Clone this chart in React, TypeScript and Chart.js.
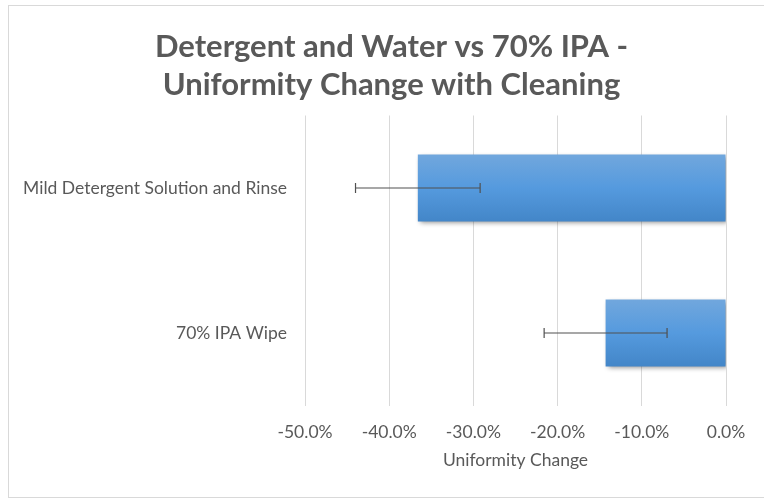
import React, { useEffect, useRef } from "react";
import { Chart, registerables } from "chart.js";

Chart.register(...registerables);

const titleLines = ["Detergent and Water vs 70% IPA -", "Uniformity Change with Cleaning"];
const categories = ["Mild Detergent Solution and Rinse", "70% IPA Wipe"];
const changeValues = [-36.6, -14.3];
const errorValues = [7.4, 7.3];
const xMin = -50;
const xMax = 0;
const xStep = 10;
const xAxisTitle = "Uniformity Change";

const FONT = "Lato, 'Open Sans', sans-serif";
const TEXT = "#595959";
const BAR_PCT = 0.462;
const W = 755;
const H = 491;

export default function App() {
  const ref = useRef<HTMLCanvasElement | null>(null);

  useEffect(() => {
    document.body.style.overflow = "hidden";
    const canvas = ref.current;
    if (!canvas) return;

    const shadowAndErrors = {
      id: "shadowAndErrors",
      beforeDatasetsDraw(chart: any) {
        const ctx = chart.ctx;
        ctx.save();
        ctx.shadowColor = "rgba(0,0,0,0.45)";
        ctx.shadowBlur = 5;
        ctx.shadowOffsetX = 2;
        ctx.shadowOffsetY = 2;
      },
      afterDatasetsDraw(chart: any) {
        const ctx = chart.ctx;
        ctx.restore();
        const meta = chart.getDatasetMeta(0);
        const xs = chart.scales.x;
        ctx.save();
        ctx.strokeStyle = "#505050";
        ctx.lineWidth = 1.2;
        meta.data.forEach((el: any, i: number) => {
          const v = changeValues[i];
          const e = errorValues[i];
          const x1 = xs.getPixelForValue(v - e);
          const x2 = xs.getPixelForValue(v + e);
          const y = el.y;
          ctx.beginPath();
          ctx.moveTo(x1, y);
          ctx.lineTo(x2, y);
          ctx.moveTo(x1, y - 5);
          ctx.lineTo(x1, y + 5);
          ctx.moveTo(x2, y - 5);
          ctx.lineTo(x2, y + 5);
          ctx.stroke();
        });
        ctx.restore();
      },
    };

    const chart = new Chart(canvas, {
      type: "bar",
      data: {
        labels: categories,
        datasets: [
          {
            label: xAxisTitle,
            data: changeValues,
            backgroundColor: (c: any) => {
              const ch = c.chart;
              const ys = ch.scales && ch.scales.y;
              const area = ch.chartArea;
              if (!ys || !area || c.dataIndex == null) return "#5599db";
              const cy = ys.getPixelForValue(c.dataIndex);
              const half = ((area.bottom - area.top) / categories.length) * BAR_PCT / 2;
              const g = ch.ctx.createLinearGradient(0, cy - half, 0, cy + half);
              g.addColorStop(0, "#71a7dd");
              g.addColorStop(0.5, "#559ade");
              g.addColorStop(1, "#4386c8");
              return g;
            },
            borderWidth: 0,
            barPercentage: BAR_PCT,
            categoryPercentage: 1,
          },
        ],
      },
      options: {
        indexAxis: "y",
        responsive: false,
        animation: false,
        layout: { padding: { left: 10, right: 0, top: 0, bottom: 26.5 } },
        plugins: {
          legend: { display: false },
          tooltip: { enabled: false },
          title: {
            display: true,
            text: titleLines,
            color: TEXT,
            font: { family: FONT, size: 31, weight: "bold", lineHeight: 38 / 31 },
            padding: { top: 22, bottom: 11.5 },
          },
        },
        scales: {
          x: {
            type: "linear",
            min: xMin,
            max: xMax,
            ticks: {
              stepSize: xStep,
              color: TEXT,
              padding: 16,
              font: { family: FONT, size: 17.5, lineHeight: 1.2 },
              callback: (v: any) => Number(v).toFixed(1) + "%",
            },
            grid: { color: "#d9d9d9", lineWidth: 1, drawTicks: false },
            border: { display: false },
            title: {
              display: true,
              text: xAxisTitle,
              color: TEXT,
              font: { family: FONT, size: 17.5, lineHeight: 1.2 },
              padding: { top: 0, bottom: 0 },
            },
            afterFit: (scale: any) => {
              scale.height = 65;
            },
          },
          y: {
            type: "category",
            grid: { display: false, drawTicks: false },
            border: { display: false },
            ticks: {
              color: TEXT,
              padding: 18,
              font: { family: FONT, size: 17.5, lineHeight: 1.2 },
            },
            afterFit: (scale: any) => {
              scale.width = 286;
            },
          },
          yRight: {
            type: "linear",
            axis: "y",
            position: "right",
            display: true,
            grid: { display: false, drawTicks: false },
            border: { display: false },
            ticks: { display: false },
            afterFit: (scale: any) => {
              scale.width = 38;
            },
          },
        },
      },
      plugins: [shadowAndErrors],
    } as any);

    return () => chart.destroy();
  }, []);

  return (
    <div
      style={{
        position: "fixed",
        left: 8,
        top: 5,
        width: W,
        height: H,
        borderLeft: "1px solid #d9d9d9",
        borderTop: "1px solid #d9d9d9",
        borderBottom: "1px solid #d9d9d9",
        background: "#ffffff",
      }}
    >
      <canvas ref={ref} width={W} height={H} style={{ display: "block" }} />
    </div>
  );
}
